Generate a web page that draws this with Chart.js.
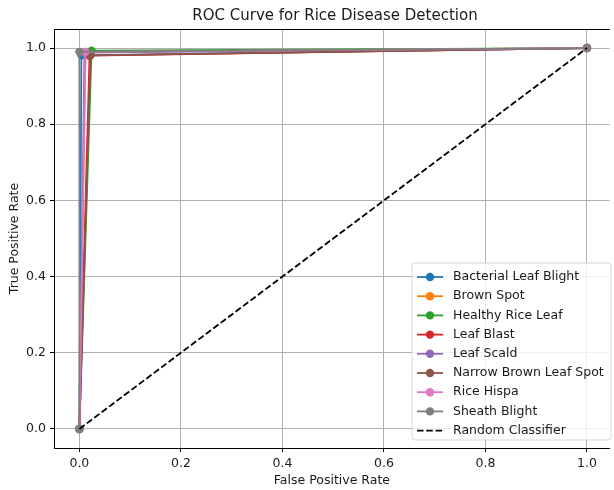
<!DOCTYPE html>
<html>
<head>
<meta charset="utf-8">
<script src="https://cdn.jsdelivr.net/npm/chart.js@4"></script>
<style>
  html, body { margin: 0; padding: 0; background: #fff; overflow: hidden; }
  canvas { display: block; }
</style>
</head>
<body>
<canvas id="roc" width="614" height="490"></canvas>
<script>
// ROC points for each class: (0,0) -> operating point -> (1,1)
const classNames = ['Bacterial Leaf Blight', 'Brown Spot', 'Healthy Rice Leaf', 'Leaf Blast',
  'Leaf Scald', 'Narrow Brown Leaf Spot', 'Rice Hispa', 'Sheath Blight'];
const classColors = ['#1f77b4', '#ff7f0e', '#2ca02c', '#d62728', '#9467bd', '#8c564b', '#e377c2', '#7f7f7f'];

const fprBacterial = [0, 0.004, 1];
const tprBacterial = [0, 0.981, 1];
const fprBrownSpot = [0, 0.012, 1];
const tprBrownSpot = [0, 0.99, 1];
const fprHealthy = [0, 0.024, 1];
const tprHealthy = [0, 0.993, 1];
const fprLeafBlast = [0, 0.02, 1];
const tprLeafBlast = [0, 0.98, 1];
const fprLeafScald = [0, 0.01, 1];
const tprLeafScald = [0, 0.988, 1];
const fprNarrowBrown = [0, 0.022, 1];
const tprNarrowBrown = [0, 0.981, 1];
const fprRiceHispa = [0, 0.012, 1];
const tprRiceHispa = [0, 0.99, 1];
const fprSheath = [0, 0, 1];
const tprSheath = [0, 0.99, 1];

const randomFpr = [0, 1];
const randomTpr = [0, 1];

const tickValues = [0, 0.2, 0.4, 0.6, 0.8, 1.0];

const fprList = [fprBacterial, fprBrownSpot, fprHealthy, fprLeafBlast, fprLeafScald, fprNarrowBrown, fprRiceHispa, fprSheath];
const tprList = [tprBacterial, tprBrownSpot, tprHealthy, tprLeafBlast, tprLeafScald, tprNarrowBrown, tprRiceHispa, tprSheath];

const FONT = "'DejaVu Sans', sans-serif";
const TEXT = '#1a1a1a';
const FS = 12.5;

const toPoints = (xs, ys) => xs.map((x, i) => ({ x: x, y: ys[i] }));

const datasets = classNames.map((name, i) => ({
  label: name,
  data: toPoints(fprList[i], tprList[i]),
  borderColor: classColors[i],
  backgroundColor: classColors[i],
  borderWidth: 1.8,
  pointRadius: 4.2,
  pointBorderWidth: 0,
  pointHoverRadius: 4.2,
  order: classNames.length - i
}));

datasets.push({
  label: 'Random Classifier',
  data: toPoints(randomFpr, randomTpr),
  borderColor: '#000',
  backgroundColor: '#000',
  borderWidth: 1.8,
  borderDash: [6.5, 2.8],
  pointRadius: 0,
  order: 0
});

// matplotlib-like top spine, title and in-axes legend
const extras = {
  id: 'extras',
  afterDraw(chart) {
    const { ctx, chartArea } = chart;
    ctx.save();
    ctx.strokeStyle = '#000';
    ctx.lineWidth = 1;
    ctx.beginPath();
    ctx.moveTo(chartArea.left, chartArea.top + 0.5);
    ctx.lineTo(chartArea.right, chartArea.top + 0.5);
    ctx.stroke();

    ctx.fillStyle = TEXT;
    ctx.font = `15px ${FONT}`;
    ctx.textAlign = 'center';
    ctx.textBaseline = 'middle';
    ctx.fillText('ROC Curve for Rice Disease Detection', 335, 16);

    // legend box
    const bx = 412, by = 263, bw = 199, bh = 177, r = 3;
    ctx.beginPath();
    ctx.moveTo(bx + r, by);
    ctx.arcTo(bx + bw, by, bx + bw, by + bh, r);
    ctx.arcTo(bx + bw, by + bh, bx, by + bh, r);
    ctx.arcTo(bx, by + bh, bx, by, r);
    ctx.arcTo(bx, by, bx + bw, by, r);
    ctx.closePath();
    ctx.fillStyle = 'rgba(255,255,255,0.8)';
    ctx.fill();
    ctx.strokeStyle = 'rgba(204,204,204,0.8)';
    ctx.stroke();

    ctx.font = `${FS}px ${FONT}`;
    ctx.textAlign = 'left';
    chart.data.datasets.forEach((ds, i) => {
      const y = 277 + i * 19.2;
      ctx.strokeStyle = ds.borderColor;
      ctx.lineWidth = ds.borderWidth;
      ctx.setLineDash(ds.borderDash || []);
      ctx.beginPath();
      ctx.moveTo(417, y);
      ctx.lineTo(443, y);
      ctx.stroke();
      ctx.setLineDash([]);
      if (ds.pointRadius > 0) {
        ctx.fillStyle = ds.backgroundColor;
        ctx.beginPath();
        ctx.arc(430, y, ds.pointRadius, 0, Math.PI * 2);
        ctx.fill();
      }
      ctx.fillStyle = TEXT;
      ctx.fillText(ds.label, 453, y);
    });
    ctx.restore();
  }
};

const axisCommon = {
  type: 'linear',
  afterBuildTicks: (scale) => { scale.ticks = tickValues.map(v => ({ value: v })); },
  grid: { color: '#b0b0b0', lineWidth: 1, tickColor: '#000', tickLength: 4, tickWidth: 1 },
  border: { display: true, color: '#000', width: 1 },
  ticks: { color: TEXT, font: { family: FONT, size: FS }, padding: 4, callback: v => v.toFixed(1), maxRotation: 0, autoSkip: false }
};

new Chart(document.getElementById('roc').getContext('2d'), {
  type: 'line',
  data: { datasets: datasets },
  options: {
    responsive: false,
    animation: false,
    devicePixelRatio: 1,
    layout: { padding: { top: 29, left: 0, right: 0, bottom: 0 } },
    plugins: { legend: { display: false }, tooltip: { enabled: false }, title: { display: false } },
    scales: {
      x: Object.assign({}, axisCommon, {
        min: -0.05, max: 1.045,
        afterFit: (scale) => { scale.height = 42; },
        title: { display: true, text: 'False Positive Rate', color: TEXT, font: { family: FONT, size: FS }, padding: { top: 0, bottom: 2 } }
      }),
      y: Object.assign({}, axisCommon, {
        min: -0.05, max: 1.05,
        afterFit: (scale) => { scale.width = 54; },
        title: { display: true, text: 'True Positive Rate', color: TEXT, font: { family: FONT, size: FS }, padding: { top: 7, bottom: 0 } }
      })
    }
  },
  plugins: [extras]
});
</script>
</body>
</html>
